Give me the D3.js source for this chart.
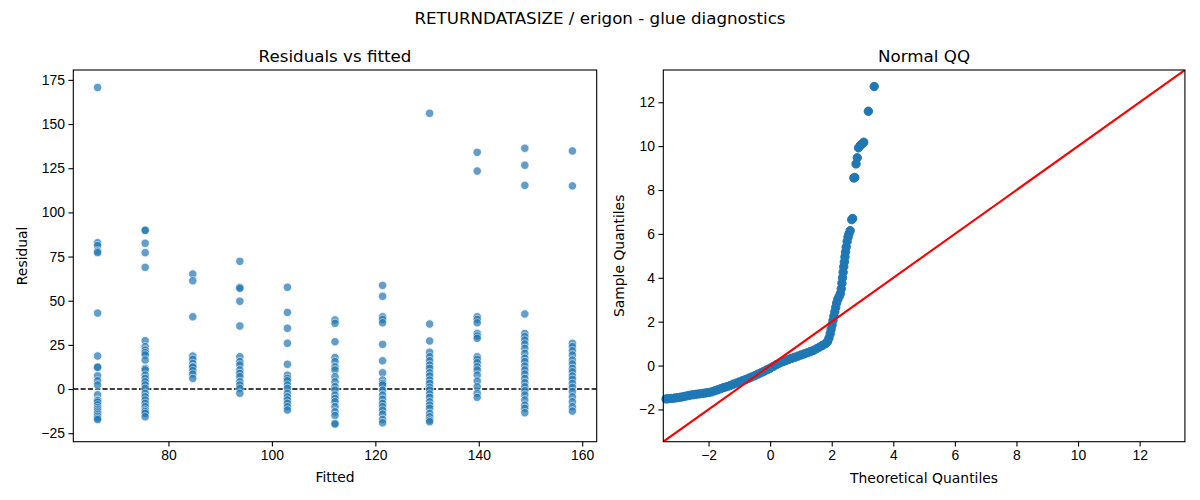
<!DOCTYPE html>
<html lang="en">
<head>
<meta charset="UTF-8" />
<title>RETURNDATASIZE / erigon - glue diagnostics</title>
<script src="https://d3js.org/d3.v7.min.js"></script>
<style>
  html, body { margin: 0; padding: 0; background: #fff; }
  svg { display: block; font-family: "DejaVu Sans", sans-serif; }
  .axis text { font-size: 13.9px; fill: #000; }
  .axis path, .axis line { stroke: #000; stroke-width: 1.1px; }
  .ttl { font-size: 16.7px; fill: #000; text-anchor: middle; }
  .lbl { font-size: 13.9px; fill: #000; text-anchor: middle; }
</style>
</head>
<body>
<div id="chart"></div>
<script>
// fitted value of each group (x positions of the columns)
const fitted = [66.3, 75.5, 84.7, 93.8, 103.0, 112.2, 121.4, 130.5, 139.7, 148.9, 158.1];

// residuals
const res1 = [170.7, 82.8, 81.2, 78.0, 77.2, 43.0, 18.7, 12.5, 12.3, 7.5, 4.7, 2.3, -3.2, -6.3, -6.6, -7.5, -9.0, -10.5, -11.5, -12.5, -13.5, -14.5, -15.5, -16.5, -17.3];
const res2 = [90.0, 89.8, 82.5, 77.2, 68.9, 27.4, 24.0, 22.0, 20.6, 19.3, 16.4, 11.7, 10.8, 7.9, 6.0, 4.1, 2.3, 0.4, -2.4, -4.4, -6.2, -8.1, -10.0, -11.9, -12.8, -13.8, -15.7];
const res3 = [65.1, 61.3, 40.9, 18.7, 16.8, 14.5, 12.6, 12.4, 10.4, 8.5, 6.0];
const res4 = [72.3, 57.6, 57.0, 49.7, 35.7, 18.3, 15.5, 13.6, 10.8, 8.9, 7.0, 4.1, 2.3, 0.4, -2.4];
const res5 = [57.6, 43.4, 34.4, 25.9, 14.0, 7.9, 6.0, 4.7, 2.3, 0.4, -2.4, -4.4, -6.2, -8.1, -10.0, -11.9];
const res6 = [39.1, 37.2, 26.8, 17.9, 15.5, 12.5, 10.8, 7.0, 4.1, 1.3, -0.6, -3.4, -5.3, -7.2, -10.0, -12.9, -15.0, -19.4, -19.8];
const res7 = [58.7, 52.5, 40.9, 39.4, 37.5, 25.3, 16.0, 9.2, 5.1, 3.2, 2.3, -0.6, -3.4, -5.8, -8.1, -10.0, -12.0, -14.2, -17.2, -19.1];
const res8 = [156.1, 36.8, 27.2, 20.8, 18.3, 16.0, 13.6, 11.7, 9.2, 7.4, 5.1, 3.2, 1.0, -0.6, -2.8, -4.7, -7.2, -9.1, -10.9, -13.8, -15.7, -17.6, -18.5];
const res9 = [134.0, 123.4, 40.9, 39.4, 37.5, 31.5, 30.0, 28.7, 18.3, 16.8, 14.9, 12.6, 10.8, 7.9, 4.5, 1.3, -2.4, -4.7];
const res10 = [136.3, 126.7, 115.3, 42.5, 31.5, 29.6, 27.7, 25.5, 23.0, 20.2, 17.4, 15.5, 13.0, 10.8, 8.5, 6.0, 3.6, 1.3, -1.0, -3.4, -6.2, -9.1, -10.9, -13.4];
const res11 = [134.8, 115.0, 25.9, 24.0, 21.7, 19.3, 16.4, 14.2, 11.7, 9.8, 7.4, 5.5, 3.2, 1.0, -1.5, -4.4, -7.2, -10.0, -12.5];
const residuals = [res1, res2, res3, res4, res5, res6, res7, res8, res9, res10, res11];

// QQ plot points
const qqTheoretical = [-3.38, -3.30, -3.20, -3.10, -3.00, -2.90, -2.80, -2.70, -2.60, -2.50, -2.40, -2.30, -2.20, -2.10, -2.00,
  -1.90, -1.80, -1.70, -1.60, -1.50, -1.40, -1.30, -1.20, -1.10, -1.00, -0.90, -0.80, -0.70, -0.60, -0.50, -0.40, -0.30,
  -0.20, -0.10, 0.00, 0.10, 0.20, 0.30, 0.40, 0.50, 0.60, 0.70, 0.80, 0.90, 1.00, 1.10, 1.20, 1.30, 1.40, 1.50, 1.60,
  1.70, 1.80, 1.86, 1.91, 1.95, 1.98, 2.01, 2.04, 2.07, 2.10, 2.13, 2.16, 2.20, 2.24, 2.28, 2.31, 2.33, 2.35, 2.37,
  2.39, 2.41, 2.43, 2.45, 2.47, 2.50, 2.53, 2.56, 2.60, 2.65, 2.68, 2.72, 2.75, 2.79, 2.83, 2.87, 2.92, 2.97, 3.04,
  3.19, 3.38];
const qqSample = [-1.52, -1.51, -1.50, -1.48, -1.46, -1.44, -1.41, -1.38, -1.35, -1.33, -1.31, -1.29, -1.27, -1.25, -1.23,
  -1.20, -1.15, -1.10, -1.05, -1.00, -0.96, -0.91, -0.85, -0.80, -0.75, -0.69, -0.64, -0.58, -0.52, -0.46, -0.39, -0.33,
  -0.26, -0.19, -0.12, -0.04, 0.04, 0.11, 0.17, 0.22, 0.28, 0.33, 0.38, 0.43, 0.48, 0.53, 0.58, 0.63, 0.69, 0.76, 0.84,
  0.92, 1.00, 1.08, 1.25, 1.45, 1.65, 1.85, 2.05, 2.25, 2.45, 2.65, 2.85, 3.02, 3.15, 3.28, 3.50, 3.75, 4.00, 4.25,
  4.50, 4.72, 4.95, 5.18, 5.40, 5.65, 5.85, 6.00, 6.15, 6.65, 6.70, 8.55, 8.57, 9.19, 9.47, 9.92, 10.02, 10.08, 10.18,
  11.59, 12.72];

const residTicks = [-25, 0, 25, 50, 75, 100, 125, 150, 175];
const fittedTicks = [80, 100, 120, 140, 160];
const qqTicks = [-2, 0, 2, 4, 6, 8, 10, 12];

const width = 1200, height = 500;
const axTop = 70, axBottom = 441.7;

const svg = d3.select("#chart").append("svg")
  .attr("width", width)
  .attr("height", height);

svg.append("text").attr("class", "ttl")
  .attr("x", 600).attr("y", 24)
  .text("RETURNDATASIZE / erigon - glue diagnostics");

function frame(g, x0, x1) {
  g.append("rect")
    .attr("x", x0).attr("y", axTop)
    .attr("width", x1 - x0).attr("height", axBottom - axTop)
    .attr("fill", "none").attr("stroke", "#000").attr("stroke-width", 1.1);
}

function axes(g, x, y, xt, yt, x0) {
  g.append("g").attr("class", "axis")
    .attr("transform", `translate(0,${axBottom})`)
    .call(d3.axisBottom(x).tickValues(xt).tickSize(4.9).tickPadding(3.5).tickSizeOuter(0))
    .call(a => a.select(".domain").remove());
  g.append("g").attr("class", "axis")
    .attr("transform", `translate(${x0},0)`)
    .call(d3.axisLeft(y).tickValues(yt).tickSize(4.9).tickPadding(3.5).tickSizeOuter(0))
    .call(a => a.select(".domain").remove());
}

// ---- left: residuals vs fitted ----
const lx0 = 73.3, lx1 = 596.7;
const xL = d3.scaleLinear().domain([61.6, 162.8]).range([lx0, lx1]);
const yL = d3.scaleLinear().domain([-29.8, 180.6]).range([axBottom, axTop]);

const left = svg.append("g");
const pts = residuals.flatMap((col, i) => col.map(r => ({ f: fitted[i], r })));

left.append("line")
  .attr("x1", lx0).attr("x2", lx1)
  .attr("y1", yL(0)).attr("y2", yL(0))
  .attr("stroke", "#000").attr("stroke-width", 1.4)
  .attr("stroke-dasharray", "5.1,2.2");

left.selectAll("circle")
  .data(pts)
  .enter().append("circle")
  .attr("cx", d => xL(d.f))
  .attr("cy", d => yL(d.r))
  .attr("r", 4.2)
  .attr("fill", "#1f77b4")
  .attr("stroke", "#fff")
  .attr("stroke-width", 0.75)
  .attr("opacity", 0.7);

frame(left, lx0, lx1);
axes(left, xL, yL, fittedTicks, residTicks, lx0);

left.append("text").attr("class", "ttl")
  .attr("x", (lx0 + lx1) / 2).attr("y", 62)
  .text("Residuals vs fitted");
left.append("text").attr("class", "lbl")
  .attr("x", (lx0 + lx1) / 2).attr("y", 482)
  .text("Fitted");
left.append("text").attr("class", "lbl")
  .attr("transform", `translate(27,${(axTop + axBottom) / 2}) rotate(-90)`)
  .text("Residual");

// ---- right: normal QQ ----
const rx0 = 663.3, rx1 = 1184.9;
const xR = d3.scaleLinear().domain([-3.47, 13.47]).range([rx0, rx1]);
const yR = d3.scaleLinear().domain([-3.47, 13.47]).range([axBottom, axTop]);

const right = svg.append("g");
right.append("clipPath").attr("id", "qqclip")
  .append("rect")
  .attr("x", rx0).attr("y", axTop)
  .attr("width", rx1 - rx0).attr("height", axBottom - axTop);

right.selectAll("circle")
  .data(qqTheoretical.map((t, i) => ({ t, s: qqSample[i] })))
  .enter().append("circle")
  .attr("cx", d => xR(d.t))
  .attr("cy", d => yR(d.s))
  .attr("r", 4.2)
  .attr("fill", "#1f77b4")
  .attr("stroke", "#1f77b4")
  .attr("stroke-width", 1);

const lim = xR.domain();
right.append("line")
  .attr("clip-path", "url(#qqclip)")
  .attr("x1", xR(lim[0])).attr("y1", yR(lim[0]))
  .attr("x2", xR(lim[1])).attr("y2", yR(lim[1]))
  .attr("stroke", "#ff0000").attr("stroke-width", 2.1);

frame(right, rx0, rx1);
axes(right, xR, yR, qqTicks, qqTicks, rx0);

right.append("text").attr("class", "ttl")
  .attr("x", (rx0 + rx1) / 2).attr("y", 62)
  .text("Normal QQ");
right.append("text").attr("class", "lbl")
  .attr("x", (rx0 + rx1) / 2).attr("y", 483)
  .text("Theoretical Quantiles");
right.append("text").attr("class", "lbl")
  .attr("transform", `translate(624,${(axTop + axBottom) / 2}) rotate(-90)`)
  .text("Sample Quantiles");
</script>
</body>
</html>
